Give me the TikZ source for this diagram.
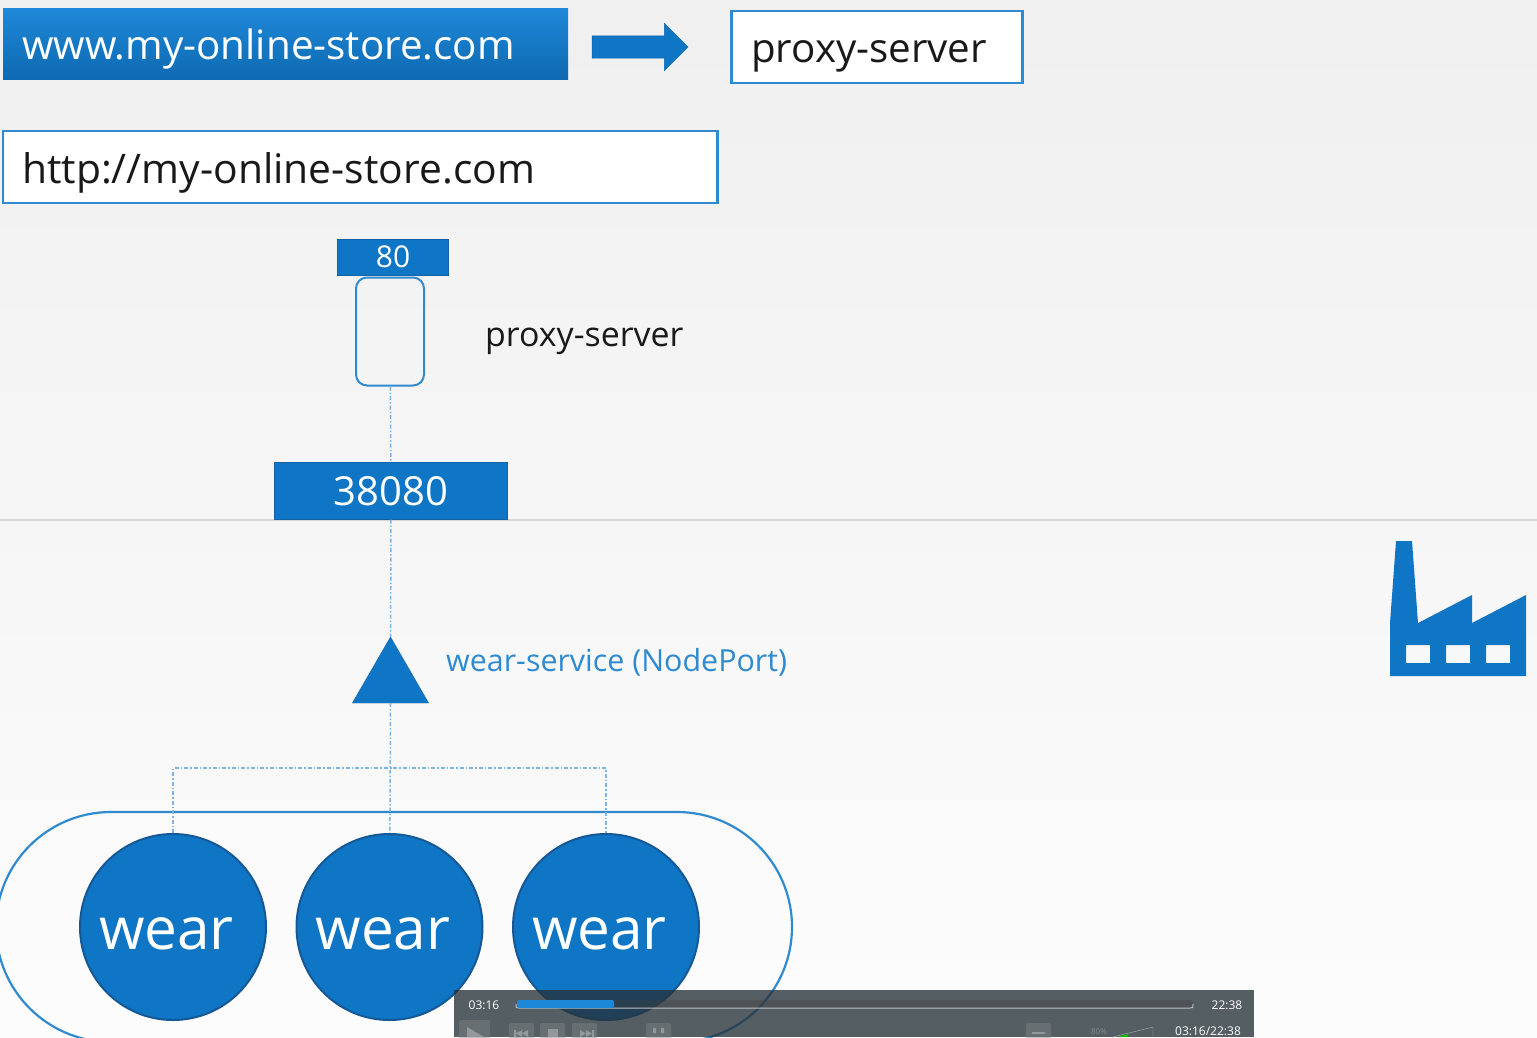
\documentclass[tikz,border=0pt]{standalone}
\usepackage{fontspec}
\setmainfont{Open Sans}
\usetikzlibrary{calc,positioning,shapes.geometric,shapes.arrows}
\definecolor{kubeblue}{RGB}{15,117,197}
\definecolor{kubetop}{RGB}{30,136,216}
\definecolor{kubeedge}{RGB}{47,138,208}
\definecolor{kubedark}{RGB}{22,88,150}
\definecolor{dotblue}{RGB}{125,180,225}
\definecolor{playbar}{RGB}{39,50,57}
\tikzset{
	bluebox/.style={fill=kubeblue, draw=kubedark!70!kubeblue, text=white, inner sep=0pt, anchor=center},
	inbox/.style={fill=white, draw=kubeedge, line width=2.5pt, anchor=west, inner sep=0pt},
	wearpod/.style={circle, fill=kubeblue, draw=kubedark, line width=2pt, minimum size=186pt, inner sep=0pt},
	weartext/.style={text=white, inner sep=0pt, font=\fontsize{58.5}{64}\selectfont},
	dotline/.style={dotblue, line width=1.5pt, dash pattern=on 4pt off 2pt on 1.5pt off 2pt},
	playtext/.style={text=white!80, inner sep=0pt, font=\fontsize{12}{14}\selectfont},
	playbutton/.style={fill=white!40!playbar, opacity=0.45},
	playglyph/.style={fill=white!50!playbar}
}
\begin{document}
\begin{tikzpicture}[x=1pt,y=-1pt]
\useasboundingbox (0,0) rectangle (1537,1037);
\clip (0,0) rectangle (1537,1037);
\shade[top color=black!6, bottom color=black!1] (0,0) rectangle (1537,1037);

% address bar row
\node[inner sep=0pt, minimum width=565pt, minimum height=71.5pt, top color=kubetop, bottom color=kubeblue!90!black, anchor=north west, text=white] (www) at (3,8) {};
\node[anchor=base west, inner sep=0pt, text=white, font=\fontsize{40.4}{48}\selectfont] (wwwtext) at (22,59.5) {www.my-online-store.com};
\node[single arrow, fill=kubeblue, draw=kubeblue!85!black, minimum height=96pt, minimum width=47pt, single arrow head extend=12.5pt, inner xsep=0pt, inner ysep=11pt] (fwd) at (634.5,47) {};
\node[inbox, minimum height=72pt, minimum width=291pt] (proxybox) at (730,47) {};
\node[anchor=base west, inner sep=0pt, text=black!90, font=\fontsize{40.3}{48}\selectfont] (proxytext) at (751,62.5) {proxy-server};
\node[inbox, minimum height=72pt, minimum width=714.5pt] (httpbox) at (1.5,167) {};
\node[anchor=base west, inner sep=0pt, text=black!90, font=\fontsize{40.8}{48}\selectfont] (httptext) at (22,183) {http://my-online-store.com};

% node port line
\draw[black!16, line width=1.2pt] (0,520) -- (1537,520);

\node[bluebox, minimum width=111pt, minimum height=36pt, font=\fontsize{30}{36}\selectfont] (port80) at (393,257) {\raisebox{-2pt}{80}};
\node[draw=kubeedge, line width=2pt, rounded corners=11pt, minimum width=68pt, minimum height=108pt, inner sep=0pt] (proxypod) at (390,331.5) {};
\node[anchor=base west, inner sep=0pt, text=black!90, font=\fontsize{33.9}{38}\selectfont] (proxylabel) at (485,346) {proxy-server};
\node[bluebox, minimum width=233pt, minimum height=57pt, font=\fontsize{40}{50}\selectfont] (port38080) at (391,491) {\raisebox{-2pt}{38080}};

\node[regular polygon, regular polygon sides=3, fill=kubeblue, draw=kubeblue!85!black, minimum size=88pt, inner sep=0pt] (svc) at (390.5,681) {};
\node[anchor=base west, inner sep=0pt, text=kubeedge, font=\fontsize{30.4}{36}\selectfont] (svclabel) at (446,671) {wear-service (NodePort)};

% pods
\node[draw=kubeedge, line width=2.2pt, rounded corners=115pt, minimum width=796pt, minimum height=230pt, inner sep=0pt] (pool) at (394,927) {};
\foreach \i/\x in {1/173,2/389.5,3/606}{
	\node[wearpod] (wear\i) at (\x,927) {};
	\node[weartext] (label\i) at ($(wear\i)+(-6.5,7)$) {wear};
}

\coordinate (bus) at (390.5,768);
\draw[dotline] (proxypod) -- (port38080);
\draw[dotline] (port38080) -- (svc);
\draw[dotline] (svc.south) -- (wear2);
\draw[dotline] (wear1) |- (bus) -| (wear3);

% factory
\fill[kubeblue, even odd rule] (1396,541) -- (1412,541) -- (1418,623) -- (1472,595) -- (1472,623) -- (1526,595)
-- (1526,676) -- (1390,676) -- (1390,623) -- cycle
\foreach \x in {1406,1446,1486}{ (\x,645) rectangle +(24,18) };

% video player
\fill[playbar, opacity=0.78] (454,990) rectangle (1254,1037);
\fill[black!75, opacity=0.35, rounded corners=3pt] (516,1000) rectangle (1193,1008);
\draw[white!70!playbar, line width=1pt] (516,1004) .. controls (516,1008) and (516,1008) .. (519,1008) -- (1190,1008) .. controls (1193,1008) and (1193,1008) .. (1193,1004);
\fill[kubetop, rounded corners=2pt] (517,1000) rectangle (614,1008);
\node[playtext] (timeleft) at (484,1005) {03:16};
\node[playtext] (timeright) at (1227,1005) {22:38};
\fill[playbutton, rounded corners=2pt] (459,1020) rectangle (490,1040);
\foreach \x in {509,540,572,646,1026}{
	\fill[playbutton, rounded corners=2pt] (\x,1023) rectangle +(25,17);
}
\fill[playglyph] (467,1027) -- (484,1037) -- (467,1037) -- cycle;
\fill[playglyph] (548,1029) rectangle (558,1037);
\fill[playglyph] (514,1030) rectangle +(2,7) (522,1030) -- (522,1037) -- (516,1033.5) -- cycle (528,1030) -- (528,1037) -- (522,1033.5) -- cycle;
\fill[playglyph] (580,1030) -- (580,1037) -- (586,1033.5) -- cycle (586,1030) -- (586,1037) -- (592,1033.5) -- cycle (592,1030) rectangle +(2,7);
\fill[playglyph] (653,1028) rectangle +(3,5) (661,1028) rectangle +(3,5);
\fill[playglyph] (1032,1032) rectangle +(13,2);
\node[playtext, text=white!45!playbar, font=\fontsize{8}{10}\selectfont] (volume) at (1099,1032) {80\%};
\draw[white!65!playbar] (1113,1037) -- (1153,1027) -- (1153,1037);
\fill[green!75!black] (1118,1037) -- (1128,1034) -- (1128,1037) -- cycle;
\node[playtext] (timeboth) at (1208,1031) {03:16/22:38};
\end{tikzpicture}
\end{document}
